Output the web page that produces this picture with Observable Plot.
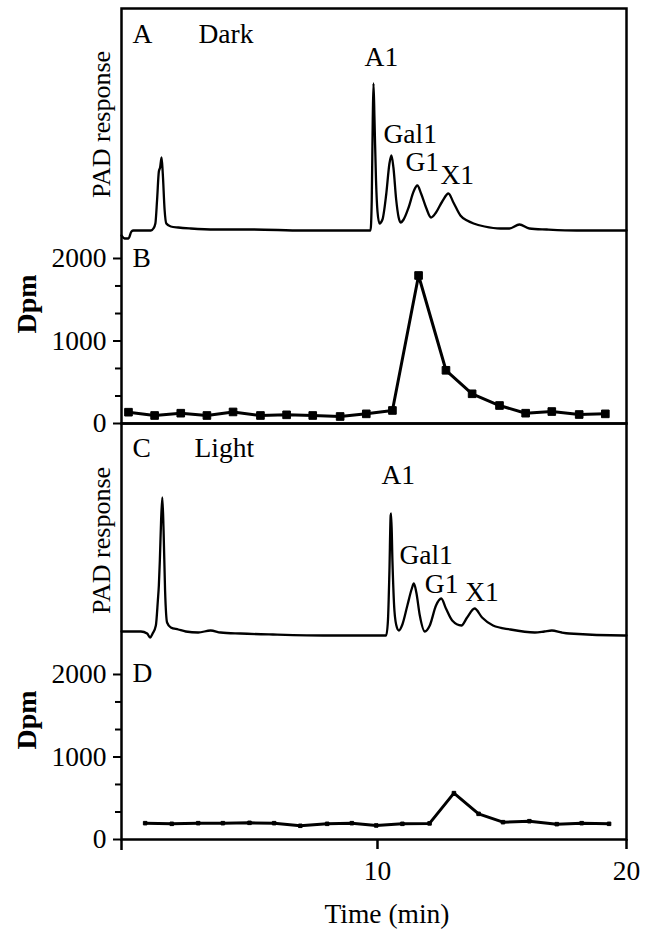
<!DOCTYPE html>
<html><head><meta charset="utf-8">
<script src="https://cdn.jsdelivr.net/npm/d3@7"></script>
<script src="https://cdn.jsdelivr.net/npm/@observablehq/plot@0.6"></script>
<style>
body{margin:0;background:#fff;}
#fig{position:relative;width:645px;height:929px;overflow:hidden;}
#fig > div{position:absolute;left:0;}
</style></head><body><div id="fig"></div>
<script>
// ---------- DATA ----------
// Panel A: PAD trace, Dark (time in min, relative detector response)
const darkTime = [-0.28,-0.15,0.0,0.12,0.2,0.9,1.0,1.08,1.15,1.22,1.27,1.33,1.38,1.45,1.52,1.7,2.0,2.5,3.5,5.0,7.0,9.0,9.72,9.77,9.81,9.84,9.88,9.94,10.0,10.08,10.2,10.35,10.48,10.56,10.64,10.75,10.85,10.93,11.05,11.25,11.45,11.6,11.75,11.95,12.15,12.35,12.6,12.85,13.05,13.33,13.6,13.86,14.3,14.94,15.3,15.7,16.1,16.8,18.0,20.0];
const darkPAD  = [-6,-9,-9,-2,-1,-1,1,6,30,58,62,72,55,20,6,3,2,1,0,0,-1,-1,-1,30,110,146,110,50,18,6,10,35,66,74,62,30,12,7,10,22,38,44,36,22,12,17,28,36,27,14,9,6,3,1,1,5,1,0,-1,-1];
// Panel C: PAD trace, Light
const lightTime = [-0.28,0.5,0.75,0.87,0.97,1.1,1.18,1.22,1.26,1.31,1.36,1.41,1.47,1.55,1.7,2.0,2.3,2.8,3.3,3.7,4.5,5.8,8.0,10.35,10.42,10.48,10.53,10.55,10.6,10.68,10.78,10.86,11.0,11.2,11.38,11.46,11.56,11.7,11.9,12.1,12.35,12.56,12.75,13.0,13.37,13.6,13.9,14.2,14.64,15.34,16.32,16.7,17.0,17.4,17.7,19.9,20.0];
const lightPAD  = [3,3,1,-3,1,9,34,49,74,114,137,104,44,12,7,5,3,2,4,2,1,0,-1,-1,14,64,119,121,74,24,7,4,10,29,46,51,42,19,3,9,29,36,26,14,9,17,26,17,9,5,2,3,4,2,1,-1,-1];
// Panel B: radioactivity of fractions, Dark
const fracTimeB = [0.0,1.05,2.1,3.15,4.2,5.3,6.35,7.4,8.5,9.55,10.6,11.65,12.75,13.8,14.9,15.95,17.0,18.1,19.15];
const dpmDark   = [137,97,125,97,140,97,105,97,85,117,158,1794,645,360,218,125,145,109,117];
// Panel D: radioactivity of fractions, Light
const fracTimeD = [0.67,1.74,2.8,3.79,4.86,5.85,6.9,7.98,8.97,9.95,11.0,12.09,13.07,14.06,15.04,16.1,17.2,18.2,19.3];
const dpmLight  = [198,190,198,198,202,198,166,190,198,170,190,195,562,311,210,222,186,198,190];
// Peak annotations
const peakNames = ["A1","Gal1","G1","X1"];
const darkLabelTime  = [9.48,10.24,11.12,12.53];
const darkLabelPAD   = [164,87,59,46];
const lightLabelTime = [10.16,10.88,11.9,13.52];
const lightLabelPAD  = [151,71,42,34];
// Texts and ticks
const panelLetters = ["A","B","C","D"];
const conditions = ["Dark","Light"];
const padTitle = "PAD response";
const dpmTitle = "Dpm";
const timeTitle = "Time (min)";
const dpmMajorTicks = [0,1000,2000];
const dpmMinorTicks = [333,667,1333,1667];
const timeTicks = [10,20];

// ---------- RENDER ----------
const fig = document.getElementById("fig");
const FONT = "'Liberation Serif', 'Times New Roman', serif";
const FS = 27.5;
const X_DOMAIN = [-0.28, 20];
const base = {
  width: 645, marginLeft: 121, marginRight: 19,
  style: {background: "transparent", overflow: "visible", fontFamily: FONT, fontSize: FS + "px", color: "black"}
};
function place(svg, top) {
  const d = document.createElement("div");
  d.style.top = top + "px";
  d.appendChild(svg);
  fig.appendChild(d);
}
const rows = (xs, ys) => xs.map((x, i) => ({x, y: ys[i]}));
const labelRows = (xs, ys) => peakNames.map((t, i) => ({t, x: xs[i], y: ys[i]}));
const plain = d => String(d);

function dpmPanel(top, height, marginTop, marginBottom, yMax, data, letter, dotR, withX) {
  const marks = [
    Plot.frame({stroke: "black", strokeWidth: 2.5}),
    Plot.axisY(dpmMajorTicks, {tickSize: 8, tickPadding: 7, strokeWidth: 2, tickFormat: plain, label: null}),
    Plot.axisY(dpmMinorTicks, {tickSize: 6, tickFormat: () => "", strokeWidth: 2, label: null}),
    Plot.line(data, {x: "x", y: "y", stroke: "black", strokeWidth: 3}),
    Plot.dot(data, {x: "x", y: "y", symbol: "square", r: dotR, fill: "black", stroke: "black", strokeWidth: 1}),
    Plot.text([dpmTitle], {text: d => d, frameAnchor: "left", y: () => 1450, rotate: -90, dx: -94, textAnchor: "middle", lineAnchor: "middle", fontWeight: "bold", fontSize: 28}),
    Plot.text([letter], {text: d => d, frameAnchor: "top-left", dx: 11, dy: 258, textAnchor: "start", lineAnchor: "bottom", fontSize: FS})
  ];
  if (withX) {
    marks.push(
      Plot.axisX(timeTicks, {tickSize: 10, tickPadding: 11, strokeWidth: 2.5, tickFormat: plain, label: null}),
      Plot.axisX([X_DOMAIN[0]], {tickSize: 11, tickFormat: () => "", strokeWidth: 2.5, label: null}),
      Plot.text([timeTitle], {text: d => d, frameAnchor: "bottom", dx: 13, dy: 83, textAnchor: "middle", lineAnchor: "bottom", fontSize: FS})
    );
  }
  const svg = Plot.plot({
    ...base, height, marginTop, marginBottom,
    x: {domain: X_DOMAIN, axis: withX ? undefined : null},
    y: {domain: [0, yMax]},
    marks
  });
  place(svg, top);
}

function padPanel(top, height, marginTop, yDomain, data, labels, letter, cond, condDx, letterDy, titleY) {
  const svg = Plot.plot({
    ...base, height, marginTop, marginBottom: 0,
    x: {domain: X_DOMAIN, axis: null},
    y: {domain: yDomain, axis: null},
    marks: [
      Plot.line(data, {x: "x", y: "y", stroke: "black", strokeWidth: 2.3, curve: "monotone-x"}),
      Plot.text(labels, {x: "x", y: "y", text: "t", textAnchor: "start", lineAnchor: "bottom", fontSize: FS}),
      Plot.text([letter], {text: d => d, frameAnchor: "top-left", dx: 11, dy: letterDy, textAnchor: "start", lineAnchor: "bottom", fontSize: FS}),
      Plot.text([cond], {text: d => d, frameAnchor: "top-left", dx: condDx, dy: letterDy, textAnchor: "start", lineAnchor: "bottom", fontSize: FS}),
      Plot.text([padTitle], {text: d => d, frameAnchor: "left", y: () => titleY, rotate: -90, dx: -20, textAnchor: "middle", lineAnchor: "middle", fontSize: 26})
    ]
  });
  place(svg, top);
}

// Frames with Dpm axes (B on top box, D on bottom box)
dpmPanel(0, 440, 8, 17, 5030, rows(fracTimeB, dpmDark), panelLetters[1], 4.3, false);
dpmPanel(423, 506, 0, 90, 5042, rows(fracTimeD, dpmLight), panelLetters[3], 2, true);
// PAD traces overlaid (A on top box, C on bottom box)
padPanel(0, 245, 8, [-16, 221], rows(darkTime, darkPAD), labelRows(darkLabelTime, darkLabelPAD), panelLetters[0], conditions[0], 77, 34, 105);
padPanel(423, 230, 0, [-19, 211], rows(lightTime, lightPAD), labelRows(lightLabelTime, lightLabelPAD), panelLetters[2], conditions[1], 73, 33, 94);
</script></body></html>
